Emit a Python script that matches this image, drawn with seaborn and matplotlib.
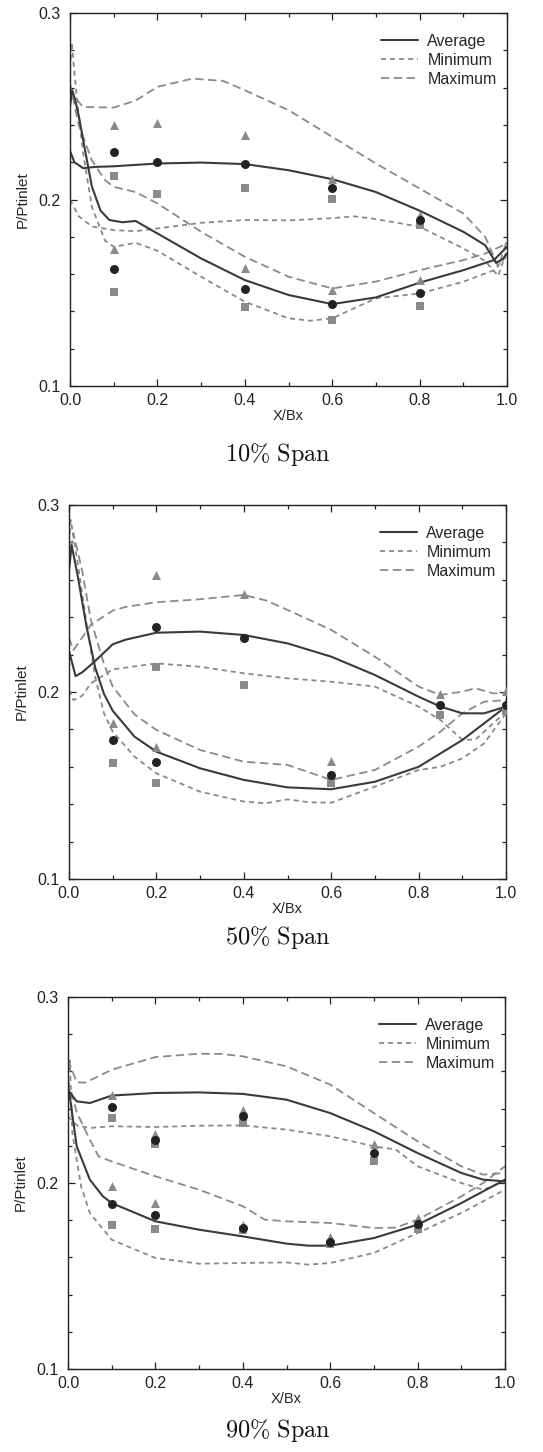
import numpy as np
import pandas as pd
import matplotlib
matplotlib.use("Agg")
import matplotlib.pyplot as plt
from matplotlib.lines import Line2D
from matplotlib.ticker import MultipleLocator
import seaborn as sns

# ---------------- data : 10% span ----------------
p1_avg_hi_x = [0, 0.01, 0.03, 0.06, 0.1, 0.2, 0.3, 0.4, 0.5, 0.6, 0.7, 0.8, 0.9, 0.95, 0.975, 0.99, 1.0]
p1_avg_hi_y = [0.226, 0.220, 0.2168, 0.2175, 0.2178, 0.2193, 0.2198, 0.219, 0.2157, 0.2109, 0.204, 0.194, 0.1827, 0.1755, 0.166, 0.168, 0.171]
p1_avg_lo_x = [0, 0.005, 0.01, 0.02, 0.03, 0.05, 0.07, 0.09, 0.12, 0.15, 0.2, 0.3, 0.4, 0.5, 0.6, 0.7, 0.8, 0.9, 0.97, 1.0]
p1_avg_lo_y = [0.250, 0.2586, 0.255, 0.245, 0.232, 0.207, 0.194, 0.189, 0.1878, 0.1885, 0.1818, 0.1684, 0.1568, 0.1488, 0.1439, 0.1475, 0.1554, 0.1621, 0.1675, 0.1746]
p1_min_hi_x = [0, 0.02, 0.05, 0.1, 0.15, 0.2, 0.3, 0.4, 0.5, 0.6, 0.65, 0.7, 0.8, 0.9, 0.95, 0.98, 1.0]
p1_min_hi_y = [0.200, 0.191, 0.1855, 0.1836, 0.183, 0.1845, 0.1875, 0.189, 0.1888, 0.190, 0.191, 0.1895, 0.1854, 0.1738, 0.167, 0.159, 0.173]
p1_min_lo_x = [0, 0.004, 0.01, 0.02, 0.03, 0.05, 0.08, 0.1, 0.15, 0.2, 0.3, 0.4, 0.5, 0.55, 0.6, 0.7, 0.8, 0.9, 0.97, 1.0]
p1_min_lo_y = [0.270, 0.284, 0.268, 0.245, 0.225, 0.196, 0.178, 0.1746, 0.1768, 0.1725, 0.1586, 0.1452, 0.1363, 0.135, 0.1363, 0.147, 0.1496, 0.1559, 0.1621, 0.170]
p1_max_hi_x = [0, 0.01, 0.03, 0.1, 0.15, 0.2, 0.28, 0.35, 0.4, 0.5, 0.6, 0.7, 0.8, 0.9, 0.95, 0.98, 1.0]
p1_max_hi_y = [0.2595, 0.255, 0.2496, 0.2493, 0.253, 0.2604, 0.2648, 0.2636, 0.2586, 0.2479, 0.2336, 0.2193, 0.2059, 0.1925, 0.180, 0.164, 0.178]
p1_max_lo_x = [0, 0.02, 0.05, 0.08, 0.1, 0.15, 0.2, 0.3, 0.4, 0.5, 0.6, 0.7, 0.8, 0.9, 0.95, 1.0]
p1_max_lo_y = [0.262, 0.240, 0.221, 0.2104, 0.2068, 0.204, 0.1979, 0.1827, 0.1693, 0.1586, 0.1523, 0.156, 0.1621, 0.1675, 0.171, 0.1764]
p1_mk_x = [0.1, 0.1, 0.2, 0.4, 0.4, 0.6, 0.6, 0.8, 0.8]
p1_tri = [0.2398, 0.1737, 0.2411, 0.2345, 0.1634, 0.2112, 0.1514, 0.1916, 0.1568]
p1_circ = [0.2255, 0.1625, 0.2202, 0.2189, 0.1518, 0.2059, 0.1439, 0.1889, 0.1500]
p1_sq = [0.2125, 0.1505, 0.2027, 0.2059, 0.1425, 0.2005, 0.1354, 0.1863, 0.1429]

# ---------------- data : 50% span ----------------
p2_avg_hi_x = [0, 0.015, 0.03, 0.055, 0.1, 0.13, 0.2, 0.3, 0.4, 0.5, 0.6, 0.7, 0.8, 0.85, 0.9, 0.95, 1.0]
p2_avg_hi_y = [0.222, 0.2085, 0.2105, 0.2155, 0.2255, 0.228, 0.2317, 0.2323, 0.2305, 0.226, 0.2189, 0.2091, 0.1975, 0.1922, 0.1886, 0.1886, 0.1922]
p2_avg_lo_x = [0, 0.006, 0.02, 0.04, 0.06, 0.08, 0.1, 0.15, 0.2, 0.3, 0.4, 0.5, 0.6, 0.7, 0.8, 0.9, 1.0]
p2_avg_lo_y = [0.265, 0.2786, 0.262, 0.235, 0.213, 0.199, 0.190, 0.1761, 0.1681, 0.1592, 0.153, 0.149, 0.148, 0.152, 0.160, 0.1743, 0.1922]
p2_min_hi_x = [0, 0.01, 0.03, 0.05, 0.1, 0.2, 0.3, 0.4, 0.5, 0.6, 0.7, 0.8, 0.85, 0.9, 0.93, 1.0]
p2_min_hi_y = [0.201, 0.1957, 0.198, 0.2046, 0.2121, 0.2153, 0.2135, 0.210, 0.2073, 0.2055, 0.2029, 0.1922, 0.185, 0.1745, 0.1745, 0.1895]
p2_min_lo_x = [0, 0.004, 0.02, 0.04, 0.06, 0.08, 0.1, 0.15, 0.2, 0.3, 0.4, 0.45, 0.5, 0.55, 0.6, 0.7, 0.8, 0.85, 0.9, 0.95, 1.0]
p2_min_lo_y = [0.280, 0.292, 0.2688, 0.237, 0.208, 0.1886, 0.1788, 0.1654, 0.1565, 0.1467, 0.1414, 0.1405, 0.1426, 0.141, 0.1408, 0.1494, 0.1583, 0.160, 0.1645, 0.1725, 0.1886]
p2_max_hi_x = [0, 0.01, 0.03, 0.05, 0.1, 0.13, 0.2, 0.3, 0.4, 0.45, 0.5, 0.6, 0.7, 0.8, 0.85, 0.9, 0.93, 0.97, 1.0]
p2_max_hi_y = [0.229, 0.2224, 0.229, 0.236, 0.2435, 0.2455, 0.248, 0.2496, 0.2519, 0.249, 0.2439, 0.2332, 0.2189, 0.2029, 0.1984, 0.2002, 0.202, 0.1993, 0.1993]
p2_max_lo_x = [0, 0.01, 0.03, 0.05, 0.08, 0.1, 0.15, 0.2, 0.3, 0.4, 0.5, 0.6, 0.7, 0.8, 0.85, 0.9, 0.95, 1.0]
p2_max_lo_y = [0.270, 0.285, 0.265, 0.2385, 0.215, 0.2029, 0.188, 0.1797, 0.169, 0.1627, 0.161, 0.153, 0.1583, 0.1708, 0.1788, 0.1886, 0.1948, 0.1957]
p2_mk_x = [0.1, 0.2, 0.2, 0.4, 0.6, 0.85, 1.0]
p2_tri = [0.1836, 0.2626, 0.1708, 0.2524, 0.1631, 0.1988, 0.2007]
p2_circ = [0.1743, 0.2349, 0.1627, 0.2291, 0.1556, 0.1930, 0.1930]
p2_sq = [0.1618, 0.2135, 0.1515, 0.2037, 0.1512, 0.1877, 0.1900]

# ---------------- data : 90% span ----------------
p3_avg_hi_x = [0, 0.005, 0.02, 0.05, 0.1, 0.2, 0.3, 0.4, 0.5, 0.6, 0.7, 0.8, 0.9, 0.95, 1.0]
p3_avg_hi_y = [0.2502, 0.2485, 0.2439, 0.243, 0.247, 0.2484, 0.2487, 0.2479, 0.2448, 0.2376, 0.2278, 0.2161, 0.2054, 0.2018, 0.2009]
p3_avg_lo_x = [0, 0.005, 0.02, 0.05, 0.08, 0.1, 0.2, 0.3, 0.4, 0.5, 0.55, 0.6, 0.7, 0.8, 0.9, 1.0]
p3_avg_lo_y = [0.252, 0.245, 0.2197, 0.2018, 0.1928, 0.1892, 0.1794, 0.1749, 0.1713, 0.1674, 0.1663, 0.1663, 0.1704, 0.1776, 0.1892, 0.2018]
p3_min_hi_x = [0, 0.02, 0.05, 0.1, 0.2, 0.3, 0.4, 0.5, 0.6, 0.7, 0.75, 0.8, 0.9, 0.95, 1.0]
p3_min_hi_y = [0.2358, 0.231, 0.2296, 0.2305, 0.2301, 0.2308, 0.231, 0.2287, 0.2251, 0.2197, 0.218, 0.209, 0.200, 0.1964, 0.2009]
p3_min_lo_x = [0, 0.004, 0.01, 0.03, 0.05, 0.1, 0.2, 0.3, 0.4, 0.5, 0.55, 0.6, 0.7, 0.8, 0.9, 1.0]
p3_min_lo_y = [0.260, 0.266, 0.2269, 0.1982, 0.1839, 0.1695, 0.1597, 0.1566, 0.157, 0.1573, 0.1561, 0.157, 0.1624, 0.1731, 0.1839, 0.1964]
p3_max_hi_x = [0, 0.02, 0.04, 0.1, 0.2, 0.3, 0.35, 0.4, 0.5, 0.6, 0.7, 0.8, 0.9, 0.95, 1.0]
p3_max_hi_y = [0.2663, 0.2541, 0.254, 0.2609, 0.2677, 0.2695, 0.2694, 0.2681, 0.2627, 0.2529, 0.2376, 0.2224, 0.209, 0.2045, 0.2054]
p3_max_lo_x = [0, 0.02, 0.05, 0.07, 0.1, 0.2, 0.3, 0.4, 0.45, 0.5, 0.6, 0.7, 0.75, 0.8, 0.9, 0.95, 1.0]
p3_max_lo_y = [0.2556, 0.238, 0.2233, 0.2143, 0.2116, 0.2036, 0.1964, 0.1875, 0.1803, 0.1794, 0.1785, 0.1758, 0.176, 0.1803, 0.1928, 0.200, 0.209]
p3_mk_x = [0.1, 0.1, 0.2, 0.2, 0.4, 0.4, 0.6, 0.7, 0.8]
p3_tri = [0.2475, 0.1982, 0.2265, 0.1892, 0.2391, 0.1776, 0.1708, 0.2210, 0.1812]
p3_circ = [0.2407, 0.1887, 0.2233, 0.1826, 0.2362, 0.1758, 0.1681, 0.2161, 0.1780]
p3_sq = [0.2349, 0.1776, 0.2210, 0.1753, 0.2323, 0.1749, 0.1672, 0.2116, 0.1753]

captions = ["10% Span", "50% Span", "90% Span"]
legend_labels = ["Average", "Minimum", "Maximum"]
x_ticks = [0.0, 0.2, 0.4, 0.6, 0.8, 1.0]
y_ticks = [0.1, 0.2, 0.3]

panels = [
    dict(avg=[(p1_avg_hi_x, p1_avg_hi_y), (p1_avg_lo_x, p1_avg_lo_y)],
         mn=[(p1_min_hi_x, p1_min_hi_y), (p1_min_lo_x, p1_min_lo_y)],
         mx=[(p1_max_hi_x, p1_max_hi_y), (p1_max_lo_x, p1_max_lo_y)],
         mk=(p1_mk_x, p1_tri, p1_circ, p1_sq)),
    dict(avg=[(p2_avg_hi_x, p2_avg_hi_y), (p2_avg_lo_x, p2_avg_lo_y)],
         mn=[(p2_min_hi_x, p2_min_hi_y), (p2_min_lo_x, p2_min_lo_y)],
         mx=[(p2_max_hi_x, p2_max_hi_y), (p2_max_lo_x, p2_max_lo_y)],
         mk=(p2_mk_x, p2_tri, p2_circ, p2_sq)),
    dict(avg=[(p3_avg_hi_x, p3_avg_hi_y), (p3_avg_lo_x, p3_avg_lo_y)],
         mn=[(p3_min_hi_x, p3_min_hi_y), (p3_min_lo_x, p3_min_lo_y)],
         mx=[(p3_max_hi_x, p3_max_hi_y), (p3_max_lo_x, p3_max_lo_y)],
         mk=(p3_mk_x, p3_tri, p3_circ, p3_sq)),
]

# ---------------- style ----------------
sns.set_theme(style="ticks")
plt.rcParams["font.family"] = ["Liberation Sans", "DejaVu Sans"]
plt.rcParams["mathtext.fontset"] = "cm"

AVG_C = "#3a3a3a"
GRAY = "#8a8a8a"
MIN_LS = (0, (2.8, 2.2))
MAX_LS = (0, (4.6, 2.5))

W, H = 543, 1452
fig = plt.figure(figsize=(W / 100, H / 100), dpi=100)

ax_boxes = [(70, 13, 507, 386), (69, 505, 506, 879), (68, 997, 505, 1369)]
cap_y = [455, 937, 1430]

for i, (pan, box) in enumerate(zip(panels, ax_boxes)):
    l, t, r, b = box
    ax = fig.add_axes([l / W, 1 - b / H, (r - l) / W, (b - t) / H])
    for (xs, ys) in pan["mx"]:
        sns.lineplot(x=xs, y=ys, ax=ax, color=GRAY, lw=1.3, linestyle=MAX_LS,
                     estimator=None, sort=False)
    for (xs, ys) in pan["mn"]:
        sns.lineplot(x=xs, y=ys, ax=ax, color=GRAY, lw=1.3, linestyle=MIN_LS,
                     estimator=None, sort=False)
    for (xs, ys) in pan["avg"]:
        sns.lineplot(x=xs, y=ys, ax=ax, color=AVG_C, lw=1.5,
                     estimator=None, sort=False)
    mx_, tri, circ, sq = pan["mk"]
    sns.scatterplot(x=mx_, y=tri, ax=ax, marker="^", color=GRAY, s=42, linewidth=0, zorder=5)
    sns.scatterplot(x=mx_, y=sq, ax=ax, marker="s", color=GRAY, s=32, linewidth=0, zorder=5)
    sns.scatterplot(x=mx_, y=circ, ax=ax, marker="o", color="#222222", s=42, linewidth=0, zorder=6)

    ax.set_xlim(0, 1.0)
    ax.set_ylim(0.1, 0.3)
    ax.set_xticks(x_ticks)
    ax.set_xticklabels([f"{v:.1f}" for v in x_ticks])
    ax.set_yticks(y_ticks)
    ax.set_yticklabels([f"{v:.1f}" for v in y_ticks])
    ax.xaxis.set_minor_locator(MultipleLocator(0.1))
    ax.yaxis.set_minor_locator(MultipleLocator(0.02))
    ax.tick_params(which="both", direction="in", top=True, right=True, colors="#222222",
                   labelsize=11.5, width=0.9)
    ax.tick_params(which="major", length=5)
    ax.tick_params(which="minor", length=3)
    ax.tick_params(axis="x", which="major", pad=5)
    ax.tick_params(axis="y", which="major", pad=7)
    for sp in ax.spines.values():
        sp.set_linewidth(1.0)
        sp.set_color("#222222")
    ax.set_xlabel("X/Bx", fontsize=10.5, labelpad=1)
    ax.set_ylabel("P/Ptinlet", fontsize=11, labelpad=6)

    handles = [Line2D([], [], color=AVG_C, lw=1.5),
               Line2D([], [], color=GRAY, lw=1.3, linestyle=MIN_LS),
               Line2D([], [], color=GRAY, lw=1.3, linestyle=MAX_LS)]
    ax.legend(handles, legend_labels, loc="upper right", bbox_to_anchor=(0.998, 0.97),
              frameon=False, fontsize=11.5, handlelength=2.3, handletextpad=0.6,
              labelspacing=0.25, borderaxespad=0.2)

    fig.text(278 / W, 1 - cap_y[i] / H, r"$\mathrm{" + captions[i].replace("%", r"\%").replace(" ", r"\ ") + "}$",
             ha="center", va="center", fontsize=17.5, color="#111111")

fig.savefig("out.png", dpi=100)
